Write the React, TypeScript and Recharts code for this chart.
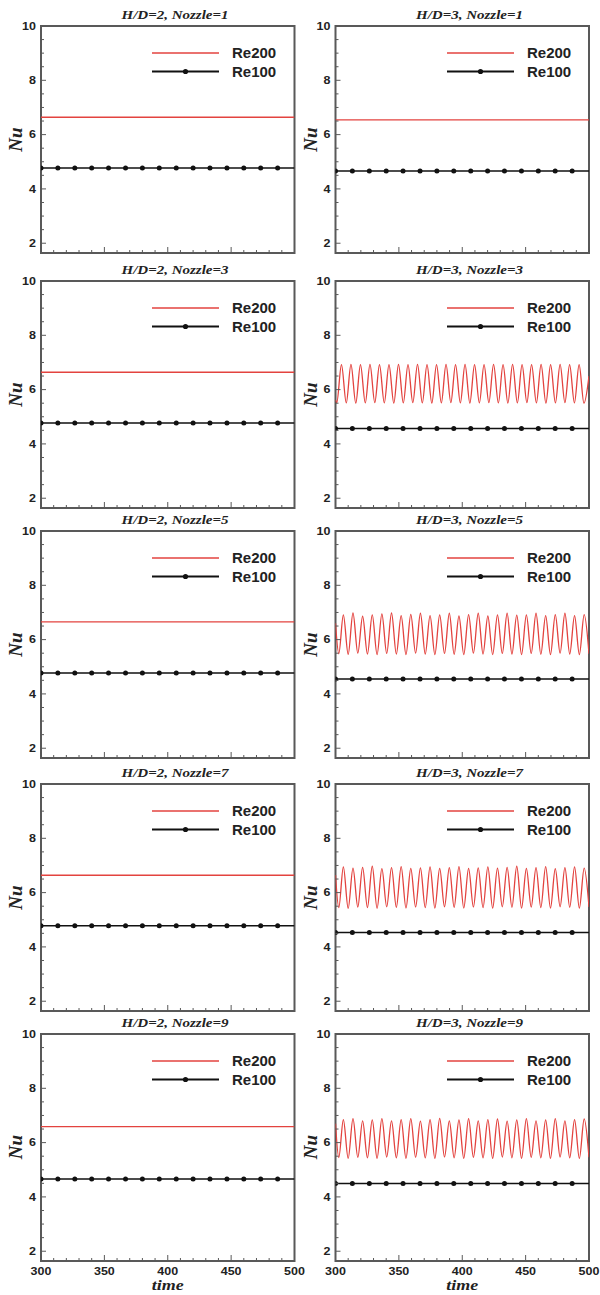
import React from "react";
import { LineChart, Line, XAxis, YAxis, ReferenceArea, Legend } from "recharts";

// ---- data ----
const HD_VALUES = ["2", "3"];
const NOZZLES = [1, 3, 5, 7, 9];

const X_TICKS = [300, 310, 320, 330, 340, 350, 360, 370, 380, 390, 400, 410, 420, 430, 440, 450, 460, 470, 480, 490, 500];
const X_LABELS = [300, 350, 400, 450, 500];
const Y_TICKS = [2, 2.5, 3, 3.5, 4, 4.5, 5, 5.5, 6, 6.5, 7, 7.5, 8, 8.5, 9, 9.5, 10];
const Y_LABELS = [2, 4, 6, 8, 10];
const X_DOMAIN = [300, 500];
const Y_DOMAIN = [1.64, 10];

// Re100 marker times (line runs on to 500 without a marker)
const RE100_T = [300, 313.3, 326.7, 340, 353.3, 366.7, 380, 393.3, 406.7, 420, 433.3, 446.7, 460, 473.3, 486.7, 500];
const FLAT_T = [300, 500];

// steady levels per row (Nozzle 1,3,5,7,9)
const RE100_HD2 = [4.77, 4.77, 4.77, 4.78, 4.66];
const RE100_HD3 = [4.66, 4.57, 4.55, 4.53, 4.49];
const RE200_HD2 = [6.64, 6.64, 6.65, 6.64, 6.59];
const RE200_HD3_N1 = 6.54;

// H/D=3, Nozzle=3 oscillation extremes
const A_PEAK_T = [304.7, 312.2, 319.7, 327.2, 334.7, 342.2, 349.7, 357.2, 364.7, 372.2, 379.7, 387.2, 394.7, 402.2, 409.7, 417.2, 424.7, 432.2, 439.7, 447.2, 454.7, 462.2, 469.7, 477.2, 484.7, 492.2];
const A_TROUGH_T = [301.0, 308.5, 316.0, 323.5, 331.0, 338.5, 346.0, 353.5, 361.0, 368.5, 376.0, 383.5, 391.0, 398.5, 406.0, 413.5, 421.0, 428.5, 436.0, 443.5, 451.0, 458.5, 466.0, 473.5, 481.0, 488.5, 496.0];
const N3_PEAK = [6.92, 6.93, 6.92, 6.93, 6.92, 6.92, 6.93, 6.92, 6.93, 6.92, 6.92, 6.93, 6.92, 6.93, 6.92, 6.92, 6.93, 6.92, 6.93, 6.92, 6.92, 6.93, 6.92, 6.93, 6.92, 6.92];
const N3_TROUGH = [5.52, 5.51, 5.50, 5.51, 5.52, 5.51, 5.50, 5.51, 5.52, 5.51, 5.50, 5.51, 5.52, 5.51, 5.50, 5.51, 5.52, 5.51, 5.50, 5.51, 5.52, 5.51, 5.50, 5.51, 5.52, 5.51, 5.50];
const N3_EDGE = [5.62, 6.5]; // value at t=300 and t=500

// H/D=3, Nozzle=5/7/9 oscillation extremes
const B_PEAK_T = [306.2, 313.8, 321.4, 329.0, 336.6, 344.2, 351.8, 359.4, 367.0, 374.6, 382.2, 389.8, 397.4, 405.0, 412.6, 420.2, 427.8, 435.4, 443.0, 450.6, 458.2, 465.8, 473.4, 481.0, 488.6, 496.2];
const B_TROUGH_T = [302.6, 310.0, 317.6, 325.2, 332.8, 340.4, 348.0, 355.6, 363.2, 370.8, 378.4, 386.0, 393.6, 401.2, 408.8, 416.4, 424.0, 431.6, 439.2, 446.8, 454.4, 462.0, 469.6, 477.2, 484.8, 492.4, 500.0];
const N5_PEAK = [6.91, 6.98, 6.86, 6.91, 6.95, 6.98, 6.88, 6.93, 6.97, 6.88, 6.91, 6.97, 6.87, 6.92, 6.97, 6.87, 6.91, 6.97, 6.9, 6.91, 6.97, 6.88, 6.92, 6.97, 6.88, 6.92];
const N5_TROUGH = [5.48, 5.46, 5.5, 5.47, 5.45, 5.49, 5.47, 5.45, 5.5, 5.47, 5.45, 5.49, 5.46, 5.45, 5.5, 5.47, 5.45, 5.49, 5.47, 5.45, 5.49, 5.46, 5.45, 5.5, 5.47, 5.45, 5.48];
const N7_PEAK = [6.95, 6.9, 6.93, 6.97, 6.88, 6.92, 6.96, 6.89, 6.91, 6.95, 6.89, 6.92, 6.96, 6.89, 6.91, 6.95, 6.9, 6.93, 6.97, 6.89, 6.92, 6.96, 6.88, 6.92, 6.95, 6.9];
const N7_TROUGH = [5.45, 5.42, 5.47, 5.45, 5.42, 5.48, 5.46, 5.43, 5.47, 5.45, 5.43, 5.48, 5.46, 5.43, 5.47, 5.45, 5.43, 5.48, 5.46, 5.43, 5.47, 5.45, 5.43, 5.48, 5.46, 5.43, 5.47];
const N9_PEAK = [6.85, 6.88, 6.8, 6.84, 6.88, 6.8, 6.85, 6.88, 6.79, 6.85, 6.89, 6.8, 6.84, 6.88, 6.8, 6.85, 6.87, 6.79, 6.84, 6.88, 6.8, 6.84, 6.88, 6.8, 6.85, 6.87];
const N9_TROUGH = [5.45, 5.42, 5.46, 5.44, 5.42, 5.47, 5.44, 5.42, 5.46, 5.44, 5.42, 5.47, 5.44, 5.42, 5.46, 5.44, 5.42, 5.47, 5.44, 5.42, 5.46, 5.44, 5.42, 5.47, 5.44, 5.42, 5.46];
const B_START = [6.6, 6.65, 6.7]; // t=300 value for Nozzle 5, 7, 9

const LEGEND_ORDER = ["Re200", "Re100"];

// ---- layout / style ----
const COL_PLOT_LEFT = [41, 335.5];
const COL_CHART_W = [320, 300]; // left chart a bit wider so its "500" label is not clipped
const ROW_PLOT_TOP = [26, 281, 531, 784, 1033.5];
const PLOT_W = 253.5;
const PLOT_H = 227;
const PAD_TOP = 30;
const PAD_BOTTOM = 24;
const AXIS_W = 1; // axes need a non-zero box to draw their ticks
const FRAME = "#595959";
const RED = "#e3433f";
const BLACK = "#111";
const SANS = "'Liberation Sans', Arial, sans-serif";
const SERIF = "'Liberation Serif', 'Times New Roman', serif";

type Pt = { t: number; v: number };

const flat = (times: number[], level: number): Pt[] => times.map((t) => ({ t, v: level }));

const extremes = (edgeT: number[], edgeV: number[], peakT: number[], peakV: number[], troughT: number[], troughV: number[]): Pt[] =>
  [
    ...edgeT.map((t, i) => ({ t, v: edgeV[i] })),
    ...peakT.map((t, i) => ({ t, v: peakV[i] })),
    ...troughT.map((t, i) => ({ t, v: troughV[i] })),
  ].sort((a, b) => a.t - b.t);

function re200Series(col: number, row: number): Pt[] {
  if (col === 0) return flat(FLAT_T, RE200_HD2[row]);
  if (row === 0) return flat(FLAT_T, RE200_HD3_N1);
  if (row === 1) return extremes([300, 500], N3_EDGE, A_PEAK_T, N3_PEAK, A_TROUGH_T, N3_TROUGH);
  const peaks = [N5_PEAK, N7_PEAK, N9_PEAK][row - 2];
  const troughs = [N5_TROUGH, N7_TROUGH, N9_TROUGH][row - 2];
  return extremes([300], [B_START[row - 2]], B_PEAK_T, peaks, B_TROUGH_T, troughs);
}

function re100Series(col: number, row: number): Pt[] {
  return flat(RE100_T, (col === 0 ? RE100_HD2 : RE100_HD3)[row]);
}

function YTick(props: any) {
  const { x, y, payload } = props;
  const v = payload.value;
  const major = Y_LABELS.includes(v);
  return (
    <g>
      <line x1={x} x2={x + (major ? 5 : 3)} y1={y} y2={y} stroke={FRAME} strokeWidth={1} />
      {major && (
        <text
          transform={`translate(${x - 5},${y + 3.6}) scale(1,0.82)`}
          textAnchor="end"
          fontFamily={SANS}
          fontWeight="bold"
          fontSize={12.5}
          fill="#222"
        >
          {v}
        </text>
      )}
    </g>
  );
}

function XTick(props: any) {
  const { x, y, payload, showLabels } = props;
  const v = payload.value;
  const major = X_LABELS.includes(v);
  return (
    <g>
      <line x1={x} x2={x} y1={y} y2={y - (major ? 6 : 3)} stroke={FRAME} strokeWidth={1} />
      {major && showLabels && (
        <text
          transform={`translate(${x},${y + 14}) scale(1,0.82)`}
          textAnchor="middle"
          fontFamily={SANS}
          fontWeight="bold"
          fontSize={12.5}
          fill="#222"
        >
          {v}
        </text>
      )}
    </g>
  );
}

function LegendBox({ payload }: any) {
  const items = [...(payload ?? [])].sort(
    (a: any, b: any) => LEGEND_ORDER.indexOf(a.value) - LEGEND_ORDER.indexOf(b.value)
  );
  return (
    <svg width={140} height={44} style={{ display: "block", overflow: "visible" }}>
      {items.map((it: any, i: number) => {
        const y = 8 + i * 18.5;
        const dotted = it.value === "Re100";
        return (
          <g key={it.value}>
            <line x1={0} x2={67} y1={y} y2={y} stroke={it.color} strokeWidth={dotted ? 1.8 : 1.5} />
            {dotted && <circle cx={33.5} cy={y} r={2.6} fill={BLACK} />}
            <text x={80} y={y + 5.3} fontFamily={SANS} fontWeight="bold" fontSize={15} fill="#222">
              {it.value}
            </text>
          </g>
        );
      })}
    </svg>
  );
}

const renderDot = (p: any) =>
  p.payload.t < 500 ? (
    <circle key={`d-${p.index}`} cx={p.cx} cy={p.cy} r={2.5} fill={BLACK} stroke="none" />
  ) : (
    <g key={`d-${p.index}`} />
  );

function Panel({ col, row }: { col: number; row: number }) {
  const chartLeft = col * 300;
  const innerLeft = COL_PLOT_LEFT[col] - chartLeft;
  const chartW = COL_CHART_W[col];
  const chartH = PAD_TOP + PLOT_H + PAD_BOTTOM;
  const last = row === NOZZLES.length - 1;
  return (
    <div style={{ position: "absolute", left: chartLeft, top: ROW_PLOT_TOP[row] - PAD_TOP }}>
      <LineChart
        width={chartW}
        height={chartH}
        margin={{
          top: PAD_TOP,
          left: innerLeft - AXIS_W,
          right: chartW - innerLeft - PLOT_W,
          bottom: PAD_BOTTOM - AXIS_W,
        }}
      >
        <XAxis
          type="number"
          dataKey="t"
          domain={X_DOMAIN}
          ticks={X_TICKS}
          interval={0}
          height={AXIS_W}
          tickSize={0}
          tickMargin={0}
          axisLine={false}
          tickLine={false}
          allowDataOverflow
          tick={(p: any) => <XTick {...p} showLabels={last} />}
        />
        <YAxis
          type="number"
          dataKey="v"
          domain={Y_DOMAIN}
          ticks={Y_TICKS}
          interval={0}
          width={AXIS_W}
          tickSize={0}
          tickMargin={0}
          axisLine={false}
          tickLine={false}
          allowDataOverflow
          tick={(p: any) => <YTick {...p} />}
        />
        <ReferenceArea
          x1={X_DOMAIN[0]}
          x2={X_DOMAIN[1]}
          y1={Y_DOMAIN[0]}
          y2={Y_DOMAIN[1]}
          fill="none"
          fillOpacity={0}
          stroke={FRAME}
          strokeWidth={2}
          ifOverflow="visible"
        />
        <Line
          data={re200Series(col, row)}
          dataKey="v"
          name="Re200"
          type="monotone"
          stroke={RED}
          strokeWidth={1.3}
          dot={false}
          isAnimationActive={false}
        />
        <Line
          data={re100Series(col, row)}
          dataKey="v"
          name="Re100"
          type="linear"
          stroke={BLACK}
          strokeWidth={1.5}
          dot={renderDot}
          isAnimationActive={false}
        />
        <Legend
          layout="vertical"
          align="center"
          verticalAlign="middle"
          content={(p: any) => <LegendBox {...p} />}
          wrapperStyle={{ left: innerLeft + 111, top: PAD_TOP + 27 - 8, width: 140, height: 44 }}
        />
      </LineChart>
    </div>
  );
}

export default function App() {
  const cells: { col: number; row: number }[] = [];
  NOZZLES.forEach((_, row) => HD_VALUES.forEach((__, col) => cells.push({ col, row })));
  return (
    <div
      style={{
        position: "absolute",
        left: 0,
        top: 0,
        width: 600,
        height: 1295,
        background: "#fff",
        overflow: "hidden",
      }}
    >
      {cells.map((c) => (
        <Panel key={`${c.col}-${c.row}`} col={c.col} row={c.row} />
      ))}
      <svg width={600} height={1295} style={{ position: "absolute", left: 0, top: 0, pointerEvents: "none" }}>
        {cells.map((c) => {
          const px = COL_PLOT_LEFT[c.col];
          const py = ROW_PLOT_TOP[c.row];
          return (
            <g key={`t-${c.col}-${c.row}`}>
              <text
                transform={`translate(${px + 134},${py - 7}) scale(1,0.8)`}
                textAnchor="middle"
                fontFamily={SERIF}
                fontStyle="italic"
                fontWeight="bold"
                fontSize={15}
                fill="#222"
              >
                {`H/D=${HD_VALUES[c.col]}, Nozzle=${NOZZLES[c.row]}`}
              </text>
              <text
                transform={`translate(${px - 19},${py + PLOT_H / 2}) rotate(-90)`}
                textAnchor="middle"
                fontFamily={SERIF}
                fontStyle="italic"
                fontWeight="bold"
                fontSize={19}
                fill="#222"
              >
                Nu
              </text>
            </g>
          );
        })}
        {HD_VALUES.map((_, col) => (
          <text
            key={`time-${col}`}
            transform={`translate(${COL_PLOT_LEFT[col] + PLOT_W / 2},${ROW_PLOT_TOP[4] + PLOT_H + 29}) scale(1,0.85)`}
            textAnchor="middle"
            fontFamily={SERIF}
            fontStyle="italic"
            fontWeight="bold"
            fontSize={18}
            fill="#222"
          >
            time
          </text>
        ))}
      </svg>
    </div>
  );
}
